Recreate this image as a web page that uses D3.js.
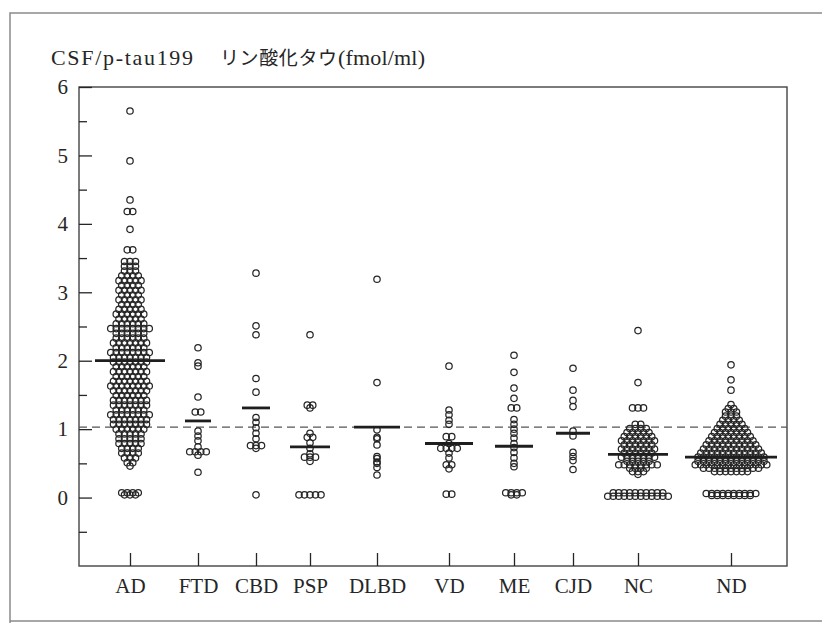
<!DOCTYPE html>
<html>
<head>
<meta charset="utf-8">
<script src="https://cdn.jsdelivr.net/npm/d3@7"></script>
<style>
  body { margin: 0; background: #fff; }
  svg { display: block; }
</style>
</head>
<body>
<svg id="chart"></svg>
<script>
const width = 822;
const height = 623;

// data
const categories = ['AD', 'FTD', 'CBD', 'PSP', 'DLBD', 'VD', 'ME', 'CJD', 'NC', 'ND'];

const adValues = [
  5.65, 4.92, 4.35, 4.18, 4.18, 3.92, 3.62, 3.62, 3.45, 3.45, 3.45,
  3.38, 3.38, 3.38,
  3.31, 3.31, 3.31,
  3.24, 3.24, 3.24, 3.24,
  3.17, 3.17, 3.17, 3.17, 3.17,
  3.10, 3.10, 3.10, 3.10,
  3.03, 3.03, 3.03, 3.03, 3.03,
  2.96, 2.96, 2.96, 2.96,
  2.89, 2.89, 2.89, 2.89, 2.89,
  2.82, 2.82, 2.82, 2.82,
  2.75, 2.75, 2.75, 2.75, 2.75,
  2.68, 2.68, 2.68, 2.68, 2.68, 2.68,
  2.61, 2.61, 2.61, 2.61, 2.61,
  2.54, 2.54, 2.54, 2.54, 2.54, 2.54,
  2.47, 2.47, 2.47, 2.47, 2.47, 2.47, 2.47, 2.47,
  2.40, 2.40, 2.40, 2.40, 2.40, 2.40,
  2.33, 2.33, 2.33, 2.33, 2.33, 2.33,
  2.26, 2.26, 2.26, 2.26, 2.26, 2.26, 2.26,
  2.19, 2.19, 2.19, 2.19, 2.19, 2.19,
  2.12, 2.12, 2.12, 2.12, 2.12, 2.12, 2.12, 2.12,
  2.05, 2.05, 2.05, 2.05, 2.05, 2.05, 2.05,
  1.98, 1.98, 1.98, 1.98, 1.98, 1.98, 1.98,
  1.91, 1.91, 1.91, 1.91, 1.91, 1.91,
  1.84, 1.84, 1.84, 1.84, 1.84, 1.84, 1.84,
  1.77, 1.77, 1.77, 1.77, 1.77, 1.77,
  1.70, 1.70, 1.70, 1.70, 1.70, 1.70, 1.70,
  1.63, 1.63, 1.63, 1.63, 1.63, 1.63, 1.63, 1.63,
  1.56, 1.56, 1.56, 1.56, 1.56, 1.56, 1.56,
  1.49, 1.49, 1.49, 1.49, 1.49, 1.49,
  1.42, 1.42, 1.42, 1.42, 1.42, 1.42, 1.42,
  1.35, 1.35, 1.35, 1.35, 1.35, 1.35, 1.35,
  1.28, 1.28, 1.28, 1.28, 1.28, 1.28,
  1.21, 1.21, 1.21, 1.21, 1.21, 1.21, 1.21, 1.21,
  1.14, 1.14, 1.14, 1.14, 1.14, 1.14, 1.14,
  1.07, 1.07, 1.07, 1.07, 1.07, 1.07, 1.07,
  1.00, 1.00, 1.00, 1.00, 1.00, 1.00,
  0.93, 0.93, 0.93, 0.93, 0.93,
  0.86, 0.86, 0.86, 0.86, 0.86,
  0.79, 0.79, 0.79, 0.79, 0.79,
  0.72, 0.72, 0.72, 0.72,
  0.65, 0.65, 0.65, 0.65,
  0.58, 0.58, 0.58,
  0.51, 0.51,
  0.46,
  0.07, 0.07, 0.07, 0.07,
  0.04, 0.04, 0.04
];
const ftdValues = [2.19, 1.97, 1.92, 1.47, 1.25, 1.25, 0.97, 0.90, 0.83, 0.74, 0.67, 0.67, 0.67, 0.67, 0.62, 0.37];
const cbdValues = [3.28, 2.51, 2.38, 1.74, 1.54, 1.17, 1.10, 1.02, 0.94, 0.86, 0.76, 0.76, 0.76, 0.72, 0.04];
const pspValues = [2.38, 1.35, 1.35, 1.31, 0.94, 0.88, 0.88, 0.80, 0.72, 0.64, 0.59, 0.59, 0.59, 0.53, 0.04, 0.04, 0.04, 0.04, 0.04];
const dlbdValues = [3.19, 1.68, 0.99, 0.88, 0.86, 0.77, 0.60, 0.57, 0.52, 0.50, 0.44, 0.33];
const vdValues = [1.92, 1.28, 1.21, 1.13, 1.07, 0.89, 0.89, 0.79, 0.72, 0.72, 0.72, 0.72, 0.65, 0.58, 0.48, 0.48, 0.42, 0.05, 0.05];
const meValues = [2.08, 1.83, 1.60, 1.45, 1.31, 1.31, 1.14, 1.07, 1.00, 0.94, 0.87, 0.79, 0.73, 0.66, 0.58, 0.50, 0.45, 0.07, 0.07, 0.07, 0.07, 0.04, 0.04];
const cjdValues = [1.89, 1.57, 1.42, 1.33, 0.97, 0.90, 0.66, 0.60, 0.54, 0.41];
const ncValues = [
  2.44, 1.68, 1.31, 1.31, 1.31,
  1.07, 1.07,
  1.01, 1.01, 1.01, 1.01,
  0.95, 0.95, 0.95, 0.95, 0.95,
  0.89, 0.89, 0.89, 0.89, 0.89, 0.89,
  0.83, 0.83, 0.83, 0.83, 0.83, 0.83, 0.83,
  0.77, 0.77, 0.77, 0.77, 0.77, 0.77,
  0.71, 0.71, 0.71, 0.71, 0.71, 0.71, 0.71,
  0.65, 0.65, 0.65, 0.65, 0.65, 0.65,
  0.59, 0.59, 0.59, 0.59, 0.59, 0.59, 0.59,
  0.53, 0.53, 0.53, 0.53, 0.53,
  0.48, 0.48, 0.48, 0.48, 0.48, 0.48, 0.48, 0.48,
  0.43, 0.43, 0.43, 0.43,
  0.38, 0.38, 0.38,
  0.34,
  0.07, 0.07, 0.07, 0.07, 0.07, 0.07, 0.07, 0.07, 0.07, 0.07,
  0.02, 0.02, 0.02, 0.02, 0.02, 0.02, 0.02, 0.02, 0.02, 0.02, 0.02, 0.02
];
const ndValues = [
  1.94, 1.72, 1.57,
  1.36,
  1.30, 1.30,
  1.25, 1.25, 1.25,
  1.19, 1.19, 1.19,
  1.13, 1.13, 1.13, 1.13,
  1.07, 1.07, 1.07, 1.07, 1.07,
  1.01, 1.01, 1.01, 1.01, 1.01, 1.01,
  0.95, 0.95, 0.95, 0.95, 0.95, 0.95, 0.95,
  0.89, 0.89, 0.89, 0.89, 0.89, 0.89, 0.89, 0.89,
  0.83, 0.83, 0.83, 0.83, 0.83, 0.83, 0.83, 0.83, 0.83,
  0.77, 0.77, 0.77, 0.77, 0.77, 0.77, 0.77, 0.77, 0.77, 0.77,
  0.71, 0.71, 0.71, 0.71, 0.71, 0.71, 0.71, 0.71, 0.71, 0.71, 0.71,
  0.65, 0.65, 0.65, 0.65, 0.65, 0.65, 0.65, 0.65, 0.65, 0.65, 0.65, 0.65,
  0.59, 0.59, 0.59, 0.59, 0.59, 0.59, 0.59, 0.59, 0.59, 0.59, 0.59, 0.59, 0.59,
  0.53, 0.53, 0.53, 0.53, 0.53, 0.53, 0.53, 0.53, 0.53, 0.53, 0.53, 0.53, 0.53,
  0.48, 0.48, 0.48, 0.48, 0.48, 0.48, 0.48, 0.48, 0.48, 0.48, 0.48, 0.48, 0.48, 0.48,
  0.43, 0.43, 0.43, 0.43, 0.43, 0.43, 0.43, 0.43, 0.43, 0.43, 0.43,
  0.38, 0.38, 0.38, 0.38, 0.38, 0.38, 0.38,
  0.06, 0.06, 0.06, 0.06, 0.06, 0.06, 0.06, 0.06, 0.06, 0.06,
  0.03, 0.03, 0.03, 0.03, 0.03, 0.03, 0.03, 0.03
];
const groupValues = [adValues, ftdValues, cbdValues, pspValues, dlbdValues, vdValues, meValues, cjdValues, ncValues, ndValues];
const meanValues = [2.00, 1.12, 1.31, 0.74, 1.03, 0.79, 0.75, 0.94, 0.63, 0.59];
const cutoffValue = 1.03;
const yTickValues = [0, 1, 2, 3, 4, 5, 6];
const yMinorTickValues = [-0.5, 0.5, 1.5, 2.5, 3.5, 4.5, 5.5];
const titleParts = ['CSF/p-tau199', 'リン酸化タウ', '(fmol/ml)'];

// layout
const plot = { left: 79, top: 87, right: 787, bottom: 566 };
const ink = '#262626';
const serif = '"Liberation Serif", "DejaVu Serif", serif';
const dotGap = 5.5;
const dotR = 3.2;
// half length of each group's mean bar
const meanHalf = [35, 13, 14, 20, 23, 24, 19, 17, 30, 46];

const svg = d3.select('#chart')
  .attr('width', width)
  .attr('height', height);

// outer frame of the scanned figure
svg.append('path')
  .attr('d', `M10,${height + 5}V13H${width + 5}M10,621H${width + 5}`)
  .attr('fill', 'none')
  .attr('stroke', '#8a8a8a')
  .attr('stroke-width', 1.5);

const y = d3.scaleLinear()
  .domain([-1, 6])
  .range([plot.bottom, plot.top]);

const x = d3.scaleOrdinal()
  .domain(categories)
  .range([130, 198, 256, 310, 377, 449, 514, 573, 638, 731]);

// plot box
svg.append('rect')
  .attr('x', plot.left)
  .attr('y', plot.top)
  .attr('width', plot.right - plot.left)
  .attr('height', plot.bottom - plot.top)
  .attr('fill', 'none')
  .attr('stroke', '#444')
  .attr('stroke-width', 1.4);

// y axis, ticks point inward
const yAxis = svg.append('g')
  .attr('transform', `translate(${plot.left},0)`)
  .call(d3.axisLeft(y).tickValues(yTickValues).tickSize(-13).tickPadding(11).tickFormat(d3.format('d')));
const yMinor = svg.append('g')
  .attr('transform', `translate(${plot.left},0)`)
  .call(d3.axisLeft(y).tickValues(yMinorTickValues).tickSize(-8).tickFormat(''));

// x axis
const xAxis = svg.append('g')
  .attr('transform', `translate(0,${plot.bottom})`)
  .call(d3.axisBottom(x).tickSize(-13).tickPadding(12));

[yAxis, yMinor, xAxis].forEach(g => {
  g.select('.domain').remove();
  g.selectAll('.tick line').attr('stroke', ink).attr('stroke-width', 1.3);
  g.selectAll('.tick text')
    .attr('fill', ink)
    .style('font-family', serif);
});
yAxis.selectAll('.tick text').style('font-size', '21px');
xAxis.selectAll('.tick text').style('font-size', '21px');

// title
const title = svg.append('g').attr('fill', ink);
title.append('text')
  .attr('x', 51).attr('y', 65)
  .attr('textLength', 142)
  .style('font-family', serif).style('font-size', '22px')
  .text(titleParts[0]);
title.append('text')
  .attr('x', 220).attr('y', 65)
  .attr('textLength', 117)
  .style('font-family', '"Noto Sans CJK JP", sans-serif').style('font-size', '19px')
  .text(titleParts[1]);
title.append('text')
  .attr('x', 338).attr('y', 65)
  .attr('textLength', 87)
  .style('font-family', serif).style('font-size', '22px')
  .text(titleParts[2]);

// cut-off line
svg.append('line')
  .attr('x1', plot.left).attr('x2', plot.right)
  .attr('y1', y(cutoffValue)).attr('y2', y(cutoffValue))
  .attr('stroke', '#555')
  .attr('stroke-width', 1.4)
  .attr('stroke-dasharray', '8,5');

// dot rows: equal values sit side by side, centred on the category
const dots = [];
groupValues.forEach((vals, gi) => {
  const cx = x(categories[gi]);
  d3.groups(vals, v => v).forEach(([v, arr]) => {
    arr.forEach((_, i) => dots.push({ v, cx: cx + (i - (arr.length - 1) / 2) * dotGap }));
  });
});

svg.append('g')
  .selectAll('circle')
  .data(dots)
  .join('circle')
  .attr('cx', d => d.cx)
  .attr('cy', d => y(d.v))
  .attr('r', dotR)
  .attr('fill', 'none')
  .attr('stroke', ink)
  .attr('stroke-width', 1.25);

// mean bars
svg.append('g')
  .selectAll('line')
  .data(meanValues)
  .join('line')
  .attr('x1', (d, i) => x(categories[i]) - meanHalf[i])
  .attr('x2', (d, i) => x(categories[i]) + meanHalf[i])
  .attr('y1', d => y(d))
  .attr('y2', d => y(d))
  .attr('stroke', '#1e1e1e')
  .attr('stroke-width', 2.8);
</script>
</body>
</html>
